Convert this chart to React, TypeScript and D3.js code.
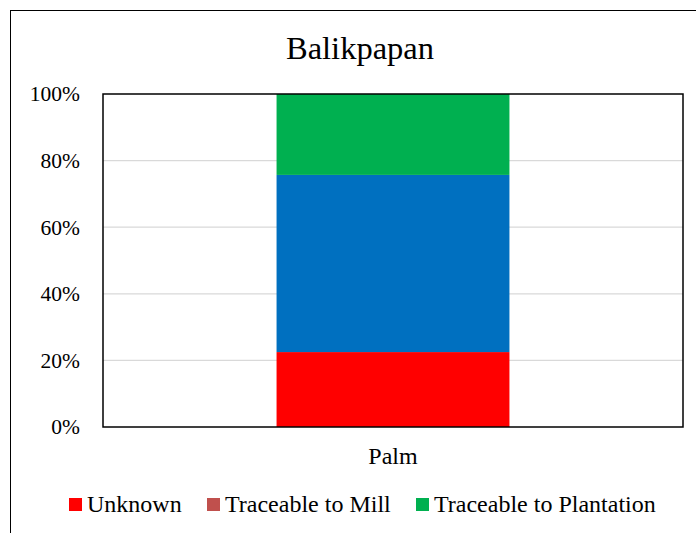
import { useEffect, useRef } from "react";
import { select, scaleLinear, scaleBand, stack, axisLeft } from "d3";

const categories = ["Palm"];
const seriesKeys = ["Unknown", "Traceable to Mill", "Other", "Traceable to Plantation"];
const seriesColors = ["#FF0000", "#C0504D", "#0070C0", "#00B050"];
const legendKeys = ["Unknown", "Traceable to Mill", "Traceable to Plantation"];
const unknownValues = [22.5];
const millValues = [0];
const otherValues = [53.2];
const plantationValues = [24.3];
const yTicks = [0, 20, 40, 60, 80, 100];

const W = 696;
const H = 533;
const FONT = "'Liberation Serif', 'Times New Roman', serif";

export default function App() {
  const ref = useRef<SVGSVGElement | null>(null);

  useEffect(() => {
    if (!ref.current) return;
    const svg = select(ref.current);
    svg.selectAll("*").remove();

    const m = { left: 103, top: 94, right: 683, bottom: 427 };

    const rows = categories.map((c, i) => ({
      cat: c,
      Unknown: unknownValues[i],
      "Traceable to Mill": millValues[i],
      Other: otherValues[i],
      "Traceable to Plantation": plantationValues[i],
    }));

    const x = scaleBand()
      .domain(categories)
      .range([m.left, m.right])
      .paddingInner(0.427)
      .paddingOuter(0.427);
    const y = scaleLinear().domain([0, 100]).range([m.bottom, m.top]);

    // outer chart frame (runs off the page on right/bottom)
    svg
      .append("rect")
      .attr("x", 10.5)
      .attr("y", 10.5)
      .attr("width", 720)
      .attr("height", 560)
      .attr("fill", "white")
      .attr("stroke", "#000")
      .attr("stroke-width", 1);

    // title
    svg
      .append("text")
      .attr("x", 360)
      .attr("y", 59)
      .attr("text-anchor", "middle")
      .attr("font-family", FONT)
      .attr("font-size", 32.5)
      .text("Balikpapan");

    // gridlines
    svg
      .append("g")
      .selectAll("line")
      .data(yTicks.filter((t) => t > 0 && t < 100))
      .join("line")
      .attr("x1", m.left)
      .attr("x2", m.right)
      .attr("y1", (d) => y(d))
      .attr("y2", (d) => y(d))
      .attr("stroke", "#d9d9d9")
      .attr("stroke-width", 1.2);

    // stacked bars
    const series = stack<any>().keys(seriesKeys)(rows as any);
    svg
      .append("g")
      .selectAll("g")
      .data(series)
      .join("g")
      .attr("fill", (_, i) => seriesColors[i])
      .selectAll("rect")
      .data((d) => d)
      .join("rect")
      .attr("x", (d: any) => x(d.data.cat)!)
      .attr("width", x.bandwidth())
      .attr("y", (d) => y(d[1]))
      .attr("height", (d) => y(d[0]) - y(d[1]));

    // plot frame
    svg
      .append("rect")
      .attr("x", m.left)
      .attr("y", m.top)
      .attr("width", m.right - m.left)
      .attr("height", m.bottom - m.top)
      .attr("fill", "none")
      .attr("stroke", "#000")
      .attr("stroke-width", 1.5);

    // y axis labels
    const ya = svg
      .append("g")
      .attr("transform", `translate(${m.left},0)`)
      .call(
        axisLeft(y)
          .tickValues(yTicks)
          .tickSize(0)
          .tickPadding(23)
          .tickFormat((d) => `${d}%`)
      );
    ya.select(".domain").remove();
    ya.selectAll("text")
      .attr("font-family", FONT)
      .attr("font-size", 21.5)
      .attr("fill", "#000");

    // category label
    svg
      .append("g")
      .selectAll("text")
      .data(categories)
      .join("text")
      .attr("x", (d) => x(d)! + x.bandwidth() / 2)
      .attr("y", 464)
      .attr("text-anchor", "middle")
      .attr("font-family", FONT)
      .attr("font-size", 24)
      .text((d) => d);

    // legend
    const legendX = [69, 207, 416];
    const lg = svg
      .append("g")
      .selectAll("g")
      .data(legendKeys)
      .join("g")
      .attr("transform", (_, i) => `translate(${legendX[i]},498)`);
    lg.append("rect")
      .attr("width", 13)
      .attr("height", 13)
      .attr("fill", (d) => seriesColors[seriesKeys.indexOf(d)]);
    lg.append("text")
      .attr("x", 18)
      .attr("y", 14)
      .attr("font-family", FONT)
      .attr("font-size", 24)
      .text((d) => d);
  }, []);

  return (
    <div style={{ position: "absolute", left: 0, top: 0 }}>
      <svg ref={ref} width={W} height={H} style={{ display: "block" }}></svg>
    </div>
  );
}
